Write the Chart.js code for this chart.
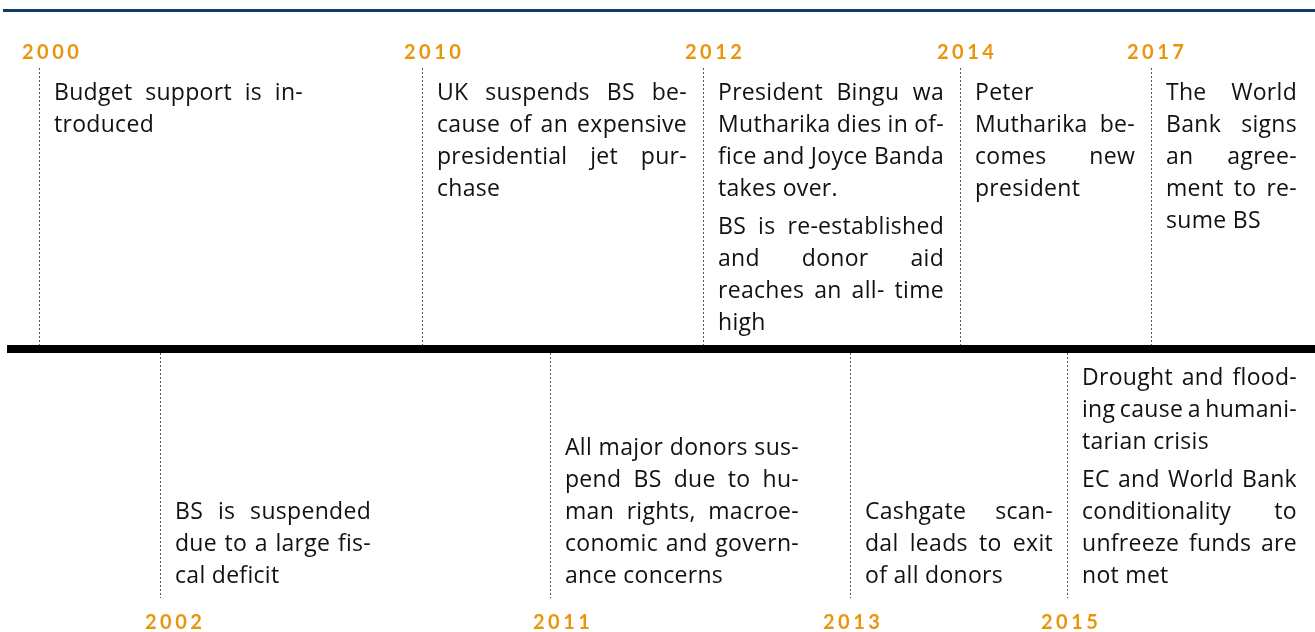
<!DOCTYPE html>
<html>
<head>
<meta charset="utf-8">
<script src="https://cdn.jsdelivr.net/npm/chart.js@4.4.0/dist/chart.umd.min.js"></script>
<style>
  html, body { margin: 0; padding: 0; background: #fff; }
  #wrap { width: 1315px; height: 632px; position: relative; }
</style>
</head>
<body>
<div id="wrap"><canvas id="timeline"></canvas></div>
<script>
// timeline data
const years = ['2000', '2002', '2010', '2011', '2012', '2013', '2014', '2015', '2017'];
const sides = ['top', 'bottom', 'top', 'bottom', 'top', 'bottom', 'top', 'bottom', 'top'];
// each event: list of paragraphs, each paragraph a list of lines (breaks as in the source)
const descriptions = [
    [['Budget support is in-', 'troduced']],
    [['BS is suspended', 'due to a large fis-', 'cal deficit']],
    [['UK suspends BS be-', 'cause of an expensive', 'presidential jet pur-', 'chase']],
    [['All major donors sus-', 'pend BS due to hu-', 'man rights, macroe-', 'conomic and govern-', 'ance concerns']],
    [['President Bingu wa', 'Mutharika dies in of-', 'fice and Joyce Banda', 'takes over.'],
     ['BS is re-established', 'and donor aid', 'reaches an all- time', 'high']],
    [['Cashgate scan-', 'dal leads to exit', 'of all donors']],
    [['Peter', 'Mutharika be-', 'comes new', 'president']],
    [['Drought and flood-', 'ing cause a humani-', 'tarian crisis'],
     ['EC and World Bank', 'conditionality to', 'unfreeze funds are', 'not met']],
    [['The World', 'Bank signs', 'an agree-', 'ment to re-', 'sume BS']]
];

// layout (page units)
const stemX = [39.5, 160.5, 422.5, 550.5, 703.5, 850.5, 960.5, 1067.5, 1151.5];
const labelX = [22, 145, 404, 533, 685, 823, 937, 1041, 1127];
const boxRight = [303, 371, 687, 799, 944, 1053, 1135, 1297, 1297];

const ORANGE = '#e9960e';
const NAVY = '#0d3c64';
const LINE_H = 32;
const PARA_GAP = 6;

const stemSets = years.map((yr, i) => ({
    type: 'line',
    data: sides[i] === 'top'
        ? [{ x: stemX[i], y: 68 }, { x: stemX[i], y: 345 }]
        : [{ x: stemX[i], y: 353 }, { x: stemX[i], y: 598 }],
    borderColor: '#555',
    borderWidth: 1,
    borderDash: [2, 2],
    pointRadius: 0
}));

function drawJustified(ctx, line, left, right, baseline, justify) {
    const words = line.split(' ');
    if (!justify || words.length < 2) {
        ctx.fillText(line, left, baseline);
        return;
    }
    const widths = words.map(w => ctx.measureText(w).width);
    const total = widths.reduce((a, b) => a + b, 0);
    const gap = (right - left - total) / (words.length - 1);
    let cx = left;
    words.forEach((w, k) => {
        ctx.fillText(w, cx, baseline);
        cx += widths[k] + gap;
    });
}

const textPlugin = {
    id: 'timelineText',
    afterDatasetsDraw(chart) {
        const { ctx, scales: { x, y } } = chart;
        ctx.save();
        ctx.textAlign = 'left';
        ctx.textBaseline = 'alphabetic';
        years.forEach((yr, i) => {
            const top = sides[i] === 'top';
            // year label
            ctx.font = 'bold 20px Lato';
            ctx.letterSpacing = '3.5px';
            ctx.fillStyle = ORANGE;
            ctx.fillText(yr, x.getPixelForValue(labelX[i]), y.getPixelForValue(top ? 59 : 629));

            // description
            ctx.font = '23px "Open Sans"';
            ctx.letterSpacing = '0.3px';
            ctx.fillStyle = '#111';
            const paras = descriptions[i];
            const nLines = paras.reduce((a, p) => a + p.length, 0);
            let base = top ? 100 : 583 - (nLines - 1) * LINE_H - (paras.length - 1) * PARA_GAP;
            const left = x.getPixelForValue(stemX[i] - 0.5 + 15);
            const right = x.getPixelForValue(boxRight[i]);
            paras.forEach(p => {
                p.forEach((line, k) => {
                    drawJustified(ctx, line, left, right, y.getPixelForValue(base), k < p.length - 1);
                    base += LINE_H;
                });
                base += PARA_GAP;
            });
        });
        ctx.restore();
    }
};

new Chart(document.getElementById('timeline'), {
    type: 'line',
    data: {
        datasets: [
            ...stemSets,
            {   // main axis bar
                data: [{ x: 7, y: 349 }, { x: 1315, y: 349 }],
                borderColor: '#000', borderWidth: 8, pointRadius: 0
            },
            {   // top rule
                data: [{ x: 3, y: 10.5 }, { x: 1315, y: 10.5 }],
                borderColor: NAVY, borderWidth: 3, pointRadius: 0
            }
        ]
    },
    options: {
        responsive: true,
        maintainAspectRatio: false,
        animation: false,
        layout: { padding: 0 },
        plugins: { legend: { display: false }, tooltip: { enabled: false } },
        scales: {
            x: { type: 'linear', min: 0, max: 1315, display: false },
            y: { type: 'linear', min: 0, max: 632, reverse: true, display: false }
        }
    },
    plugins: [textPlugin]
});
</script>
</body>
</html>
